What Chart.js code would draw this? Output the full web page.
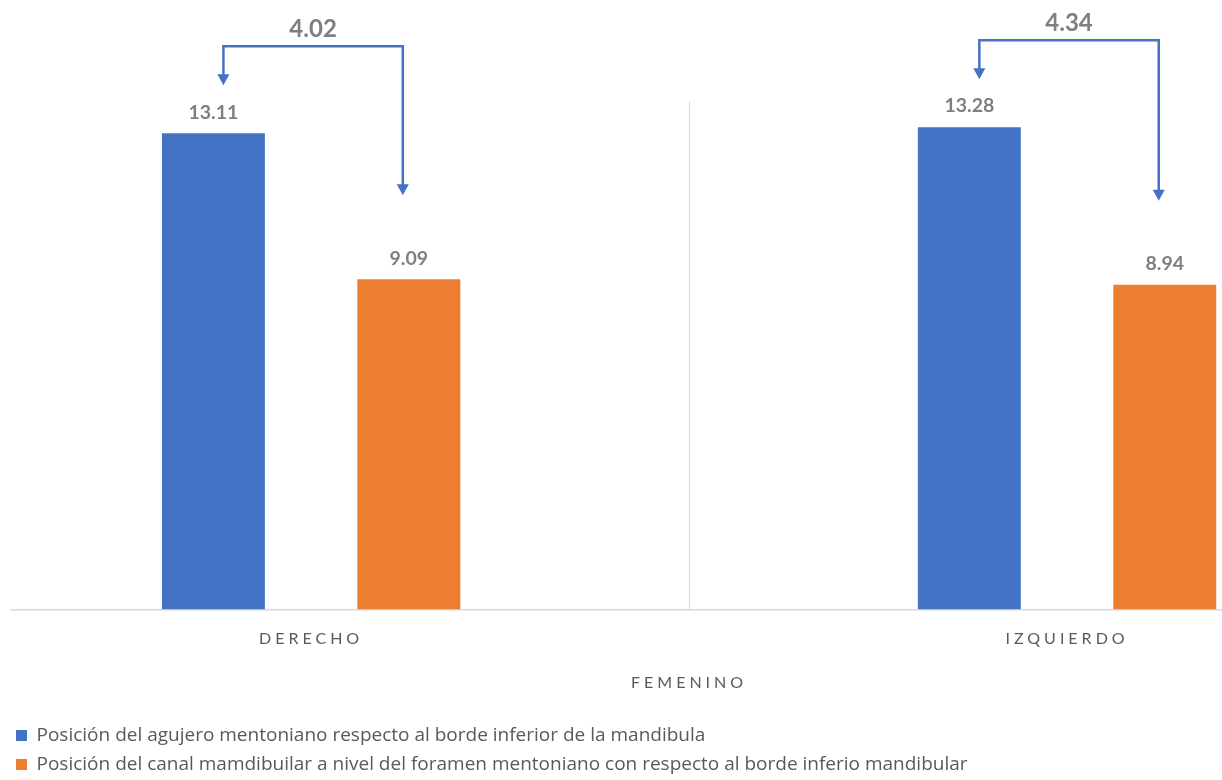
<!DOCTYPE html>
<html>
<head>
<meta charset="utf-8">
<script src="https://cdn.jsdelivr.net/npm/chart.js@4.4.1/dist/chart.umd.min.js"></script>
<style>
  html, body { margin: 0; padding: 0; background: #ffffff; }
  #wrap { width: 1222px; height: 780px; position: relative; }
</style>
</head>
<body>
<div id="wrap"><canvas id="chart" width="1222" height="780"></canvas></div>
<script>
// Categories and series values
const categories = ['DERECHO', 'IZQUIERDO'];
const groupLabel = 'FEMENINO';
const seriesNames = [
  'Posición del agujero mentoniano respecto al borde inferior de la mandibula',
  'Posición del canal mamdibuilar a nivel del foramen mentoniano con respecto al borde inferio mandibular'
];
const foramenHeight = [13.11, 13.28];
const canalHeight = [9.09, 8.94];
const yRange = [0, 14];

const BLUE = '#4472C4';
const ORANGE = '#ED7D31';
const LINE_GREY = '#D9D9D9';
const TEXT_GREY = '#595959';
const LABEL_GREY = '#7F7F7F';
const FONT = 'Lato, "Open Sans", sans-serif';
const LEGEND_FONT = '"Open Sans", Lato, sans-serif';

const toPoints = vals => vals.map((v, i) => ({ x: i, y: v }));

// Wraps the x axis text drawing so the category and group labels are letter-spaced,
// and the group label sits centred over the whole group of categories.
const spacedAxisText = {
  id: 'spacedAxisText',
  beforeDraw(chart) {
    const s = chart.scales.x;
    if (s.__spaced) return;
    s.__spaced = true;
    const drawLabels = s.drawLabels.bind(s);
    const drawTitle = s.drawTitle.bind(s);
    s.drawLabels = function (area) {
      const c = chart.ctx;
      c.save();
      c.letterSpacing = '4px';
      drawLabels(area);
      c.restore();
    };
    s.drawTitle = function () {
      const c = chart.ctx;
      const mid = s.getPixelForValue((categories.length - 1) / 2);
      c.save();
      c.letterSpacing = '4px';
      c.translate(mid - (s.left + s.right) / 2, 0);
      drawTitle();
      c.restore();
    };
  }
};

// Value labels above bars plus the bracket arrows with the difference per category
const barAnnotations = {
  id: 'barAnnotations',
  afterDatasetsDraw(chart) {
    const c = chart.ctx;
    c.save();
    c.textAlign = 'center';
    c.textBaseline = 'middle';
    c.fillStyle = LABEL_GREY;
    c.font = 'bold 19.5px ' + FONT;
    chart.data.datasets.forEach((ds, di) => {
      chart.getDatasetMeta(di).data.forEach((bar, i) => {
        c.fillText(ds.data[i].y.toFixed(2), bar.x, bar.y - 21);
      });
    });

    const blue = chart.getDatasetMeta(0).data;
    const orange = chart.getDatasetMeta(1).data;
    const head = (x, tipY) => {
      c.beginPath();
      c.moveTo(x - 6, tipY - 11);
      c.lineTo(x + 6, tipY - 11);
      c.lineTo(x, tipY);
      c.closePath();
      c.fill();
    };
    categories.forEach((_, i) => {
      const b = blue[i], o = orange[i];
      const x1 = b.x + 10, x2 = o.x - 6;
      const top = b.y - 87;
      const tip1 = b.y - 48, tip2 = o.y - 84;
      c.strokeStyle = BLUE;
      c.fillStyle = BLUE;
      c.lineWidth = 2.5;
      c.lineJoin = 'miter';
      c.beginPath();
      c.moveTo(x1, tip1 - 10);
      c.lineTo(x1, top);
      c.lineTo(x2, top);
      c.lineTo(x2, tip2 - 10);
      c.stroke();
      head(x1, tip1);
      head(x2, tip2);
      c.fillStyle = LABEL_GREY;
      c.font = 'bold 24px ' + FONT;
      c.fillText((foramenHeight[i] - canalHeight[i]).toFixed(2), (x1 + x2) / 2, top - 17);
    });
    c.restore();
  }
};

new Chart(document.getElementById('chart'), {
  type: 'bar',
  data: {
    datasets: [
      { label: seriesNames[0], data: toPoints(foramenHeight), backgroundColor: BLUE,
        categoryPercentage: 0.517, barPercentage: 0.527 },
      { label: seriesNames[1], data: toPoints(canalHeight), backgroundColor: ORANGE,
        categoryPercentage: 0.517, barPercentage: 0.527 }
    ]
  },
  options: {
    responsive: false,
    animation: false,
    devicePixelRatio: 1,
    layout: { padding: { top: 101, left: 6, right: 0, bottom: -4 } },
    scales: {
      x: {
        type: 'linear',
        bounds: 'data',
        offset: false,
        min: -0.397,
        max: 1.205,
        afterBuildTicks: s => { s.ticks = categories.map((_, i) => ({ value: i })); },
        ticks: {
          autoSkip: false,
          maxRotation: 0,
          padding: 20,
          color: TEXT_GREY,
          font: { family: FONT, size: 16 },
          callback: v => categories[v] ?? ''
        },
        grid: { offset: true, color: LINE_GREY, lineWidth: 1, drawTicks: false },
        border: { display: true, color: LINE_GREY, width: 1.5 },
        title: {
          display: true,
          text: groupLabel,
          color: TEXT_GREY,
          font: { family: FONT, size: 16 },
          padding: { top: 4, bottom: 24 }
        }
      },
      y: {
        min: yRange[0],
        max: yRange[1],
        display: true,
        ticks: { display: false },
        grid: { display: false, drawTicks: false },
        border: { display: false },
        afterFit: s => { s.width = 5; }
      }
    },
    plugins: {
      legend: {
        position: 'bottom',
        align: 'start',
        labels: {
          boxWidth: 11,
          boxHeight: 11,
          padding: 10,
          color: TEXT_GREY,
          font: { family: LEGEND_FONT, size: 19 }
        }
      },
      tooltip: { enabled: false }
    }
  },
  plugins: [spacedAxisText, barAnnotations]
});
</script>
</body>
</html>
